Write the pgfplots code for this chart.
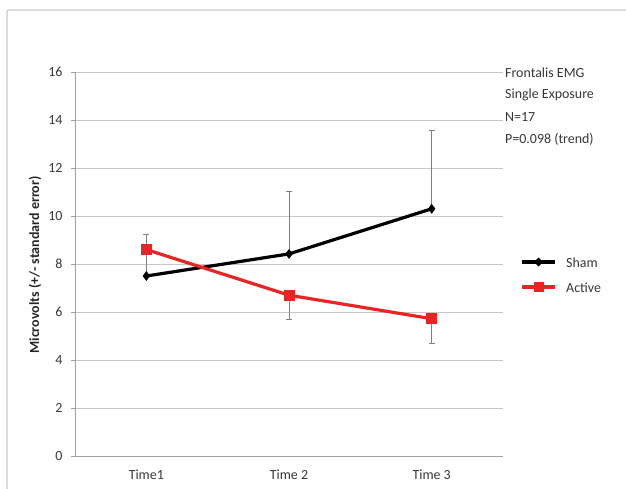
\documentclass[border=0pt]{standalone}
\usepackage{pgfplots}
\pgfplotsset{compat=1.18}
\usepackage{fontspec}
\setmainfont{Carlito}
\definecolor{gridc}{RGB}{200,200,200}
\definecolor{activec}{RGB}{232,36,36}
\definecolor{txtc}{RGB}{55,55,55}
\begin{document}
\begin{tikzpicture}
\useasboundingbox (0bp,0bp) rectangle (626bp,489bp);
\draw[gridc, line width=1.2bp, rounded corners=2bp] (7bp,0bp) -- (7bp,479bp) -- (626bp,479bp);
\begin{axis}[
  at={(75bp,33bp)}, anchor=south west,
  scale only axis, width=428bp, height=384bp,
  xmin=0.5, xmax=3.5, ymin=0, ymax=16,
  ytick={0,2,...,16},
  xtick={1,2,3}, xticklabels={Time1, Time 2, Time 3},
  major x tick style={draw=none},
  extra x ticks={0.5,1.5,2.5,3.5}, extra x tick labels={},
  extra x tick style={major tick length=5bp, tick style={draw=gridc!80!black, line width=0.8bp}, grid=none},
  ymajorgrids, grid style={gridc, line width=0.8bp},
  axis x line*=bottom, axis y line*=left,
  axis line style={gridc!80!black, line width=0.8bp},
  tick align=outside, major tick length=4bp,
  y tick style={gridc!80!black, line width=0.8bp},
  tick label style={font=\fontsize{14}{16}\selectfont, text=txtc},
  yticklabel style={xshift=-5bp},
  xticklabel style={yshift=-6bp},
  /pgf/number format/assume math mode=true,
  clip=false,
]
\addplot[black, line width=3.2bp, mark=diamond*, mark size=4.5bp, mark options={line width=0.5bp},
  error bars/.cd, y dir=plus, y explicit, error bar style={gray, line width=1bp}, error mark options={rotate=90, mark size=3bp, gray, line width=0.8bp}]
  coordinates {(1,7.5) +- (0,1.75) (2,8.42) +- (0,2.6) (3,10.3) +- (0,3.25)};
\addplot[activec, line width=3.2bp, mark=square*, mark size=5bp, mark options={line width=0.5bp},
  error bars/.cd, y dir=minus, y explicit, error bar style={gray, line width=1bp}, error mark options={rotate=90, mark size=3bp, gray, line width=0.8bp}]
  coordinates {(1,8.6) +- (0,0) (2,6.7) +- (0,1.0) (3,5.72) +- (0,1.02)};
\end{axis}
\begin{scope}[x=1bp, y=1bp, every node/.style={font=\fontsize{14}{16}\selectfont, text=txtc, anchor=west, inner sep=0}]
\node[rotate=90, anchor=center, font=\fontsize{14}{16}\selectfont\bfseries, text=black!85] at (35,489-265) {Microvolts (+/- standard error)};
\node at (505,489-73) {Frontalis EMG};
\node at (505,489-95) {Single Exposure};
\node at (505,489-117) {N=17};
\node at (505,489-139) {P=0.098 (trend)};
\draw[black, line width=3.2bp] (522,489-262) -- (555,489-262);
\fill[black] (538.5,489-262) +(0,4.5) -- +(4.5,0) -- +(0,-4.5) -- +(-4.5,0) -- cycle;
\node at (566,489-263) {Sham};
\draw[activec, line width=3.2bp] (522,489-287) -- (555,489-287);
\fill[activec] (533.5,489-292) rectangle (543.5,489-282);
\node at (566,489-288) {Active};
\end{scope}
\end{tikzpicture}
\end{document}
